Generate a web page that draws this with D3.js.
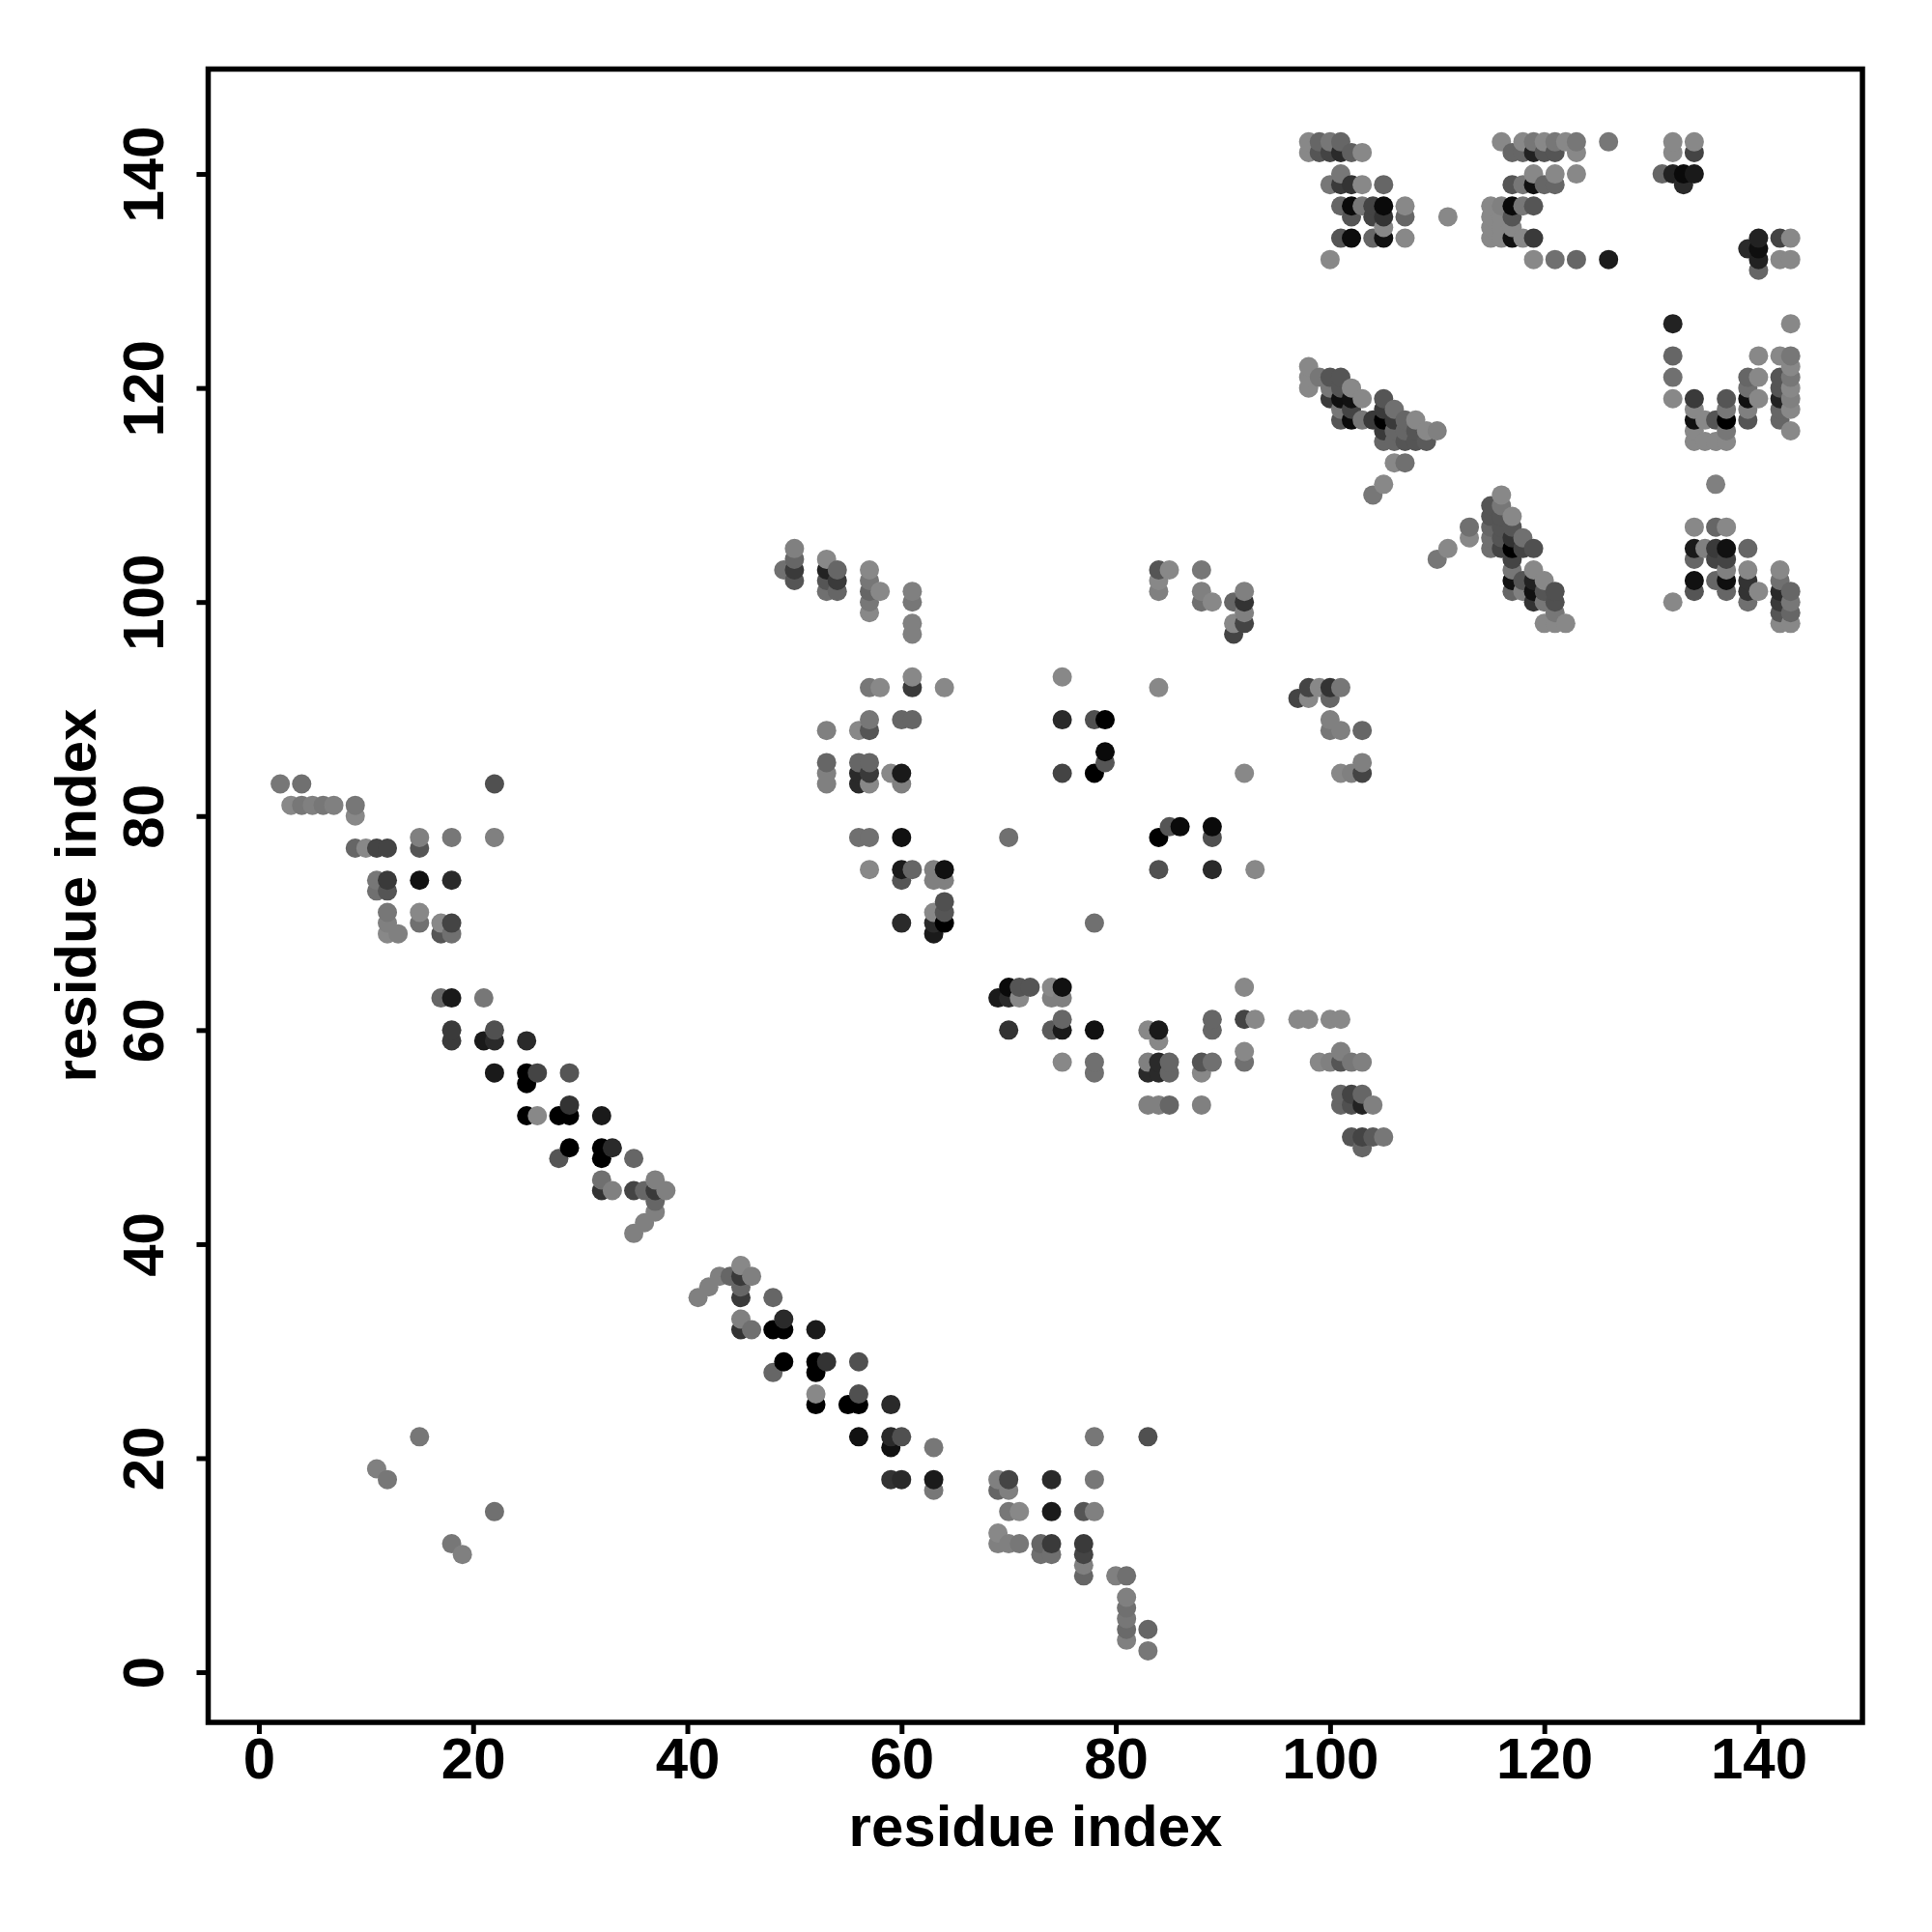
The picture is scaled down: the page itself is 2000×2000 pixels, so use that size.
<!DOCTYPE html>
<html><head><meta charset="utf-8">
<script src="https://cdn.jsdelivr.net/npm/d3@7/dist/d3.min.js"></script>
<style>html,body{margin:0;padding:0;background:#fff}svg{display:block}text{font-family:"Liberation Sans",Arial,sans-serif;font-weight:700;fill:#000}</style>
</head><body><div id="c"></div>
<script>
// [residue x, residue y, shade level]
const lowTail=[[15,22,119],[11,19,128],[12,18,119],[22,15,112],[18,12,119],[19,11,128]];
const strandA=[[2,83,119],[4,83,112],[22,83,80],[3,81,136],[4,81,119],[5,81,128],[6,81,119],[7,81,128],[9,81,119],[9,80,136],
[15,78,128],[18,78,119],[22,78,128],[9,77,102],[10,77,136],[11,77,68],[12,77,68],[15,77,85],
[11,74,119],[12,74,58],[15,74,17],[18,74,42],[11,73,112],[12,73,85],[12,71,119],[15,71,136],[12,70,128],[15,70,112],[12,69,136],[13,69,128],
[17,70,136],[18,70,68],[17,69,85],[18,69,112]];
const strandB=[[17,63,102],[18,63,26],[21,63,119],[18,60,58],[18,59,58],[21,59,26],[22,59,42],[22,60,80],[25,59,42],
[22,56,26],[25,56,0],[26,56,68],[29,56,85],[25,55,0],[25,52,0],[26,52,136],[28,52,0],[29,52,0],[29,53,51],[32,52,26],
[29,49,0],[28,48,85],[32,49,0],[33,49,42],[32,48,0],[35,48,102],[32,46,112],[33,45,128],[32,45,51],[35,45,68],[36,45,102],
[37,46,128],[37,45,58],[38,45,128],[37,44,102],[37,43,128],[36,42,128],[35,41,128]];
const strandC=[[45,38,136],[43,37,128],[44,37,102],[45,37,58],[46,37,128],[42,36,128],[45,36,102],[41,35,128],[45,35,58],[48,35,102],
[45,33,128],[45,32,51],[46,32,112],[48,32,0],[49,32,0],[49,33,42],[52,32,26],[49,29,0],[48,28,102],[52,29,0],[53,29,51],[52,28,0],[56,29,80],
[52,26,136],[52,25,0],[55,25,0],[56,25,0],[56,26,80],[59,25,42],[56,22,17],[59,22,42],[60,22,80],[59,21,17],[63,21,119],
[59,18,51],[60,18,42],[63,18,26],[63,17,119]];
const strandD=[[78,22,119],[83,22,80],[69,18,128],[70,18,68],[74,18,42],[78,18,119],[69,17,102],[70,17,128],[70,15,119],[71,15,136],[74,15,26],[77,15,85],[78,15,128],
[69,13,136],[69,12,128],[70,12,128],[71,12,119],[73,12,102],[74,12,58],[73,11,112],[74,11,112],[77,12,58],[77,11,68],[77,10,128],[77,9,102],
[80,9,128],[81,9,112],[81,7,128],[81,6,112],[81,5,119],[81,4,106],[81,3,128],[83,4,102],[83,2,119]];
const midUpper=[[50,105,128],[50,104,102],[49,103,112],[50,103,58],[50,102,85],[53,104,136],[53,103,34],[54,103,102],[53,102,85],[54,102,58],[53,101,112],[54,101,102],
[57,103,136],[57,102,119],[57,101,102],[58,101,136],[57,100,119],[57,99,136],[61,101,128],[61,100,119],[61,98,128],[61,97,128],
[61,93,136],[61,92,58],[57,92,119],[58,92,136],[64,92,136],[57,89,119],[60,89,102],[61,89,102],[53,88,128],[56,88,136],[57,88,85],
[53,85,102],[53,84,128],[53,83,128],[56,85,102],[57,85,102],[56,84,42],[57,84,58],[56,83,42],[57,83,136],[59,84,136],[60,84,26],[60,83,128],
[75,93,136],[75,89,42],[78,89,80],[79,89,0],[75,84,68],[78,84,0],[79,85,85],[79,86,10],
[84,103,85],[85,103,136],[84,102,136],[84,101,128],[88,103,119],[88,101,128],[88,100,112],[89,100,136],[91,100,102],[92,101,128],[92,100,51],[92,99,128],[91,98,136],[92,98,68],[91,97,68],
[84,92,136],[92,84,136],
[97,91,68],[98,92,68],[98,91,136],[99,92,136],[100,92,51],[101,92,119],[100,91,102],[100,89,128],[100,88,119],[101,88,128],[103,88,102],[101,84,136],[102,84,128],[103,84,68],[103,85,128]];
const midLower=[[56,78,112],[57,78,112],[60,78,17],[70,78,112],[85,79,85],[86,79,10],[84,78,0],[89,79,10],[89,78,80],
[57,75,136],[60,75,26],[61,75,102],[63,75,128],[64,75,17],[60,74,85],[63,74,128],[64,74,128],[84,75,80],[89,75,42],[93,75,136],
[64,72,80],[63,71,136],[64,71,85],[60,70,42],[63,70,42],[64,70,0],[63,69,26],[78,70,112],
[70,64,10],[71,64,85],[72,64,85],[74,64,136],[75,64,17],[69,63,26],[70,63,42],[71,63,136],[74,63,128],[75,63,128],[92,64,136],
[75,61,102],[70,60,51],[74,60,90],[75,60,26],[78,60,17],[75,57,136],[78,57,112],[78,56,112],[83,60,136],[84,60,26],[84,59,136],
[83,57,128],[84,57,42],[85,57,102],[83,56,42],[84,56,42],[85,56,102],[83,53,128],[84,53,128],[85,53,102],[88,53,128],
[88,57,85],[89,57,112],[88,56,136],[89,61,102],[89,60,102],[92,61,68],[93,61,136],[92,58,136],[92,57,112],
[97,61,136],[98,61,136],[100,61,136],[101,61,136],[99,57,136],[100,57,128],[101,58,128],[101,57,85],[102,57,119],[103,57,128],
[101,54,102],[102,54,68],[103,54,102],[101,53,102],[102,53,80],[103,53,34],[104,53,128],[102,50,85],[103,50,68],[104,50,90],[105,50,119],[103,49,102]];
const helixUpper=[[98,143,136],[99,143,102],[100,143,119],[101,143,102],[98,142,136],[99,142,85],[100,142,68],[101,142,42],[102,142,96],[103,142,136],
[101,140,119],[100,139,119],[101,139,58],[102,139,51],[103,139,136],[105,139,102],[101,137,102],[102,137,10],[103,137,119],[104,137,68],[105,137,10],[107,137,136],
[102,136,85],[104,136,68],[105,136,51],[107,136,102],[111,136,136],[105,135,136],[101,134,85],[102,134,12],[104,134,102],[105,134,17],[107,134,136],[100,132,136],
[116,143,136],[118,143,136],[119,143,119],[120,143,136],[121,143,119],[122,143,136],[123,143,119],[126,143,119],
[117,142,102],[118,142,102],[119,142,34],[120,142,85],[121,142,85],[123,142,136],[119,140,136],[121,140,136],[123,140,136],
[117,139,85],[118,139,119],[119,139,17],[120,139,102],[121,139,102],[115,137,136],[116,137,128],[117,137,10],[118,137,119],[119,137,85],
[115,136,136],[116,136,136],[117,136,85],[115,135,136],[116,135,136],[117,135,136],[115,134,136],[116,134,136],[117,134,17],[118,134,136],[119,134,58],
[119,132,136],[121,132,112],[123,132,102],[126,132,28],
[132,143,136],[134,143,136],[132,142,136],[134,142,68],[131,140,102],[132,140,34],[133,140,10],[134,140,26],[133,139,42],
[140,134,34],[142,134,68],[143,134,136],[139,133,42],[140,133,15],[140,132,34],[142,132,136],[143,132,136],[140,131,102]];
const helixMiddle=[[98,122,136],[98,121,136],[98,120,136],[99,121,119],[100,121,85],[101,121,85],[100,120,119],[101,120,85],[102,120,136],[100,119,58],[101,119,15],[102,119,17],[103,119,136],
[101,118,119],[102,118,68],[101,117,85],[102,117,10],[103,117,119],[104,117,58],[105,119,85],[105,118,58],[106,118,112],[105,117,0],[106,117,58],[107,117,102],[108,117,136],
[105,116,58],[106,116,102],[107,116,102],[108,116,85],[109,116,136],[110,116,128],[105,115,102],[106,115,102],[107,115,85],[108,115,85],[109,115,90],[106,113,136],[107,113,112],
[132,126,34],[143,126,136],[132,123,102],[140,123,136],[142,123,136],[143,123,119],[132,121,112],[132,119,136],[134,119,58],[137,119,85],[139,121,102],[140,121,136],[139,120,112],[139,119,17],[140,119,136],
[134,118,136],[137,118,119],[139,118,128],[134,117,17],[135,117,136],[136,117,85],[137,117,0],[139,117,85],[134,116,136],[137,116,119],[134,115,136],[135,115,136],[136,115,136],[137,115,136],
[142,121,85],[142,120,85],[142,119,34],[142,118,102],[142,117,102],[143,122,136],[143,121,119],[143,120,136],[143,119,128],[143,118,136],[143,116,136]];
const helixLower=[[105,111,136],[104,110,119],[116,110,136],[115,109,85],[116,109,119],[117,108,136],[115,108,85],[116,108,85],[115,107,102],[116,107,85],[117,107,85],[115,106,112],[116,106,85],[117,106,51],[118,106,112],
[115,105,112],[116,105,68],[117,105,0],[118,105,68],[119,105,80],[117,104,68],[117,103,119],[119,103,136],[117,102,17],[118,102,85],[119,102,34],[120,102,136],[117,101,102],[118,101,128],[119,101,17],[120,101,85],[121,101,80],
[119,100,51],[120,100,119],[121,100,80],[121,99,119],[120,98,136],[121,98,136],[122,98,136],[113,107,112],[113,106,136],[111,105,136],[110,104,119],
[132,100,136],[136,111,128],[134,107,136],[136,107,102],[137,107,136],[134,105,26],[135,105,128],[136,105,58],[137,105,17],[139,105,102],[134,104,102],[136,104,68],[137,104,68],[137,103,128],[139,103,136],
[134,102,17],[136,102,102],[137,102,15],[139,102,51],[137,101,102],[134,101,85],[139,101,51],[140,101,136],[139,100,112],
[142,103,136],[142,102,112],[142,101,42],[142,100,58],[142,99,85],[142,98,136],[143,101,102],[143,100,119],[143,99,102],[143,98,136]];
const xTicks=[0,20,40,60,80,100,120,140];
const yTicks=[0,20,40,60,80,100,120,140];
const xTitle="residue index", yTitle="residue index";

const contacts=[lowTail,strandA,strandB,strandC,strandD,midUpper,midLower,helixUpper,helixMiddle,helixLower].flat()
  .sort((a,b)=>a[0]-b[0]||a[1]-b[1]);
const L=215.5,R=1928,T=71.5,B=1783;
const x=d3.scaleLinear().domain([-4.73,149.7]).range([L,R]);
const y=d3.scaleLinear().domain([-4.69,149.8]).range([B,T]);
const shade=d3.scaleLinear().domain([0,136]).range(["#000000","#888888"]);
const svg=d3.select("#c").append("svg").attr("width",2000).attr("height",2000);
svg.append("rect").attr("width",2000).attr("height",2000).attr("fill","#fff");
svg.append("g").selectAll("circle").data(contacts).join("circle")
  .attr("cx",d=>x(d[0])).attr("cy",d=>y(d[1])).attr("r",10).attr("fill",d=>shade(d[2]));
svg.append("rect").attr("x",L).attr("y",T).attr("width",R-L).attr("height",B-T)
  .attr("fill","none").attr("stroke","#000").attr("stroke-width",5.5);
const gx=svg.append("g").attr("transform",`translate(0,${B})`)
  .call(d3.axisBottom(x).tickValues(xTicks).tickSize(12).tickPadding(0));
gx.select(".domain").remove();
gx.selectAll("line").attr("stroke","#000").attr("stroke-width",5);
gx.selectAll("text").attr("y",58).attr("dy",0).attr("font-size",60).style("font-weight",700);
const gy=svg.append("g").attr("transform",`translate(${L},0)`)
  .call(d3.axisLeft(y).tickValues(yTicks).tickSize(12).tickPadding(0));
gy.select(".domain").remove();
gy.selectAll("line").attr("stroke","#000").attr("stroke-width",5);
gy.selectAll("text").attr("x",0).attr("dy",0).attr("text-anchor","middle").attr("font-size",60)
  .style("font-weight",700)
  .attr("y",0)
  .attr("transform","translate(-47,0) rotate(-90)");
svg.append("text").attr("x",1072).attr("y",1911).attr("text-anchor","middle").attr("font-size",60).text(xTitle);
svg.append("text").attr("transform","translate(99,927) rotate(-90)").attr("text-anchor","middle").attr("font-size",60).text(yTitle);
</script></body></html>
